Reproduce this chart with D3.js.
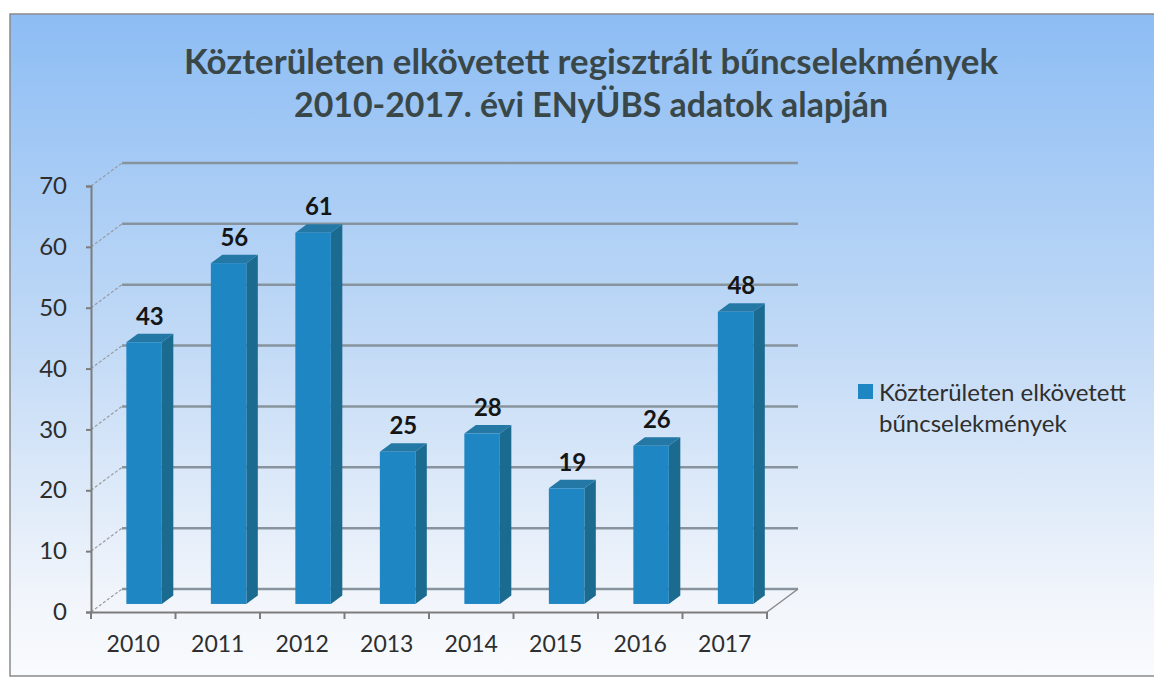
<!DOCTYPE html>
<html>
<head>
<meta charset="utf-8">
<script src="https://cdn.jsdelivr.net/npm/d3@7"></script>
<style>
  body { margin: 0; background: #fff; }
  text { font-family: Lato, "Open Sans", sans-serif; }
</style>
</head>
<body>
<svg id="drawing_region"></svg>
<script>
const years = ['2010', '2011', '2012', '2013', '2014', '2015', '2016', '2017'];
const values = [43, 56, 61, 25, 28, 19, 26, 48];
const yTicks = [0, 10, 20, 30, 40, 50, 60, 70];
const titleLines = ['Közterületen elkövetett regisztrált bűncselekmények', '2010-2017. évi ENyÜBS adatok alapján'];
const legendLines = ['Közterületen elkövetett', 'bűncselekmények'];

const width = 1154, height = 681;
const DX = 31, DY = -23;      // depth of the 3d floor
const f0 = 0.35, f1 = 0.72;   // where the bars sit in that depth

const svg = d3.select('#drawing_region')
    .attr('width', width)
    .attr('height', height);

const defs = svg.append('defs');
const grad = defs.append('linearGradient')
    .attr('id', 'bg').attr('x1', 0).attr('y1', 0).attr('x2', 0).attr('y2', 1);
grad.append('stop').attr('offset', '0%').attr('stop-color', '#8dbdf4');
grad.append('stop').attr('offset', '50%').attr('stop-color', '#c2daf6');
grad.append('stop').attr('offset', '88%').attr('stop-color', '#f1f5fb');
grad.append('stop').attr('offset', '100%').attr('stop-color', '#f9fbfd');

svg.append('rect')
    .attr('x', 10).attr('y', 14)
    .attr('width', 1160).attr('height', 662)
    .attr('fill', 'url(#bg)')
    .attr('stroke', '#8a8a8a')
    .attr('stroke-width', 1.5);

// title
svg.selectAll('.title')
    .data(titleLines)
    .enter()
    .append('text')
    .attr('class', 'title')
    .attr('x', 591)
    .attr('y', (d, i) => 74 + i * 43)
    .attr('text-anchor', 'middle')
    .attr('textLength', (d, i) => i == 0 ? 814 : 594)
    .attr('lengthAdjust', 'spacingAndGlyphs')
    .style('font-size', '35px')
    .style('font-weight', 'bold')
    .style('fill', '#3a4748')
    .text(d => d);

const x = d3.scaleBand()
    .domain(years)
    .range([91, 767])
    .paddingInner(0.58)
    .paddingOuter(0.29);

const y = d3.scaleLinear()
    .domain([0, 70])
    .range([612, 186]);

const step = x.step();
const x0 = x.range()[0], x1 = x.range()[1];

// back wall gridlines
svg.append('g')
    .selectAll('line')
    .data(yTicks)
    .enter()
    .append('line')
    .attr('x1', x0 + DX).attr('x2', x1 + DX)
    .attr('y1', d => y(d) + DY).attr('y2', d => y(d) + DY)
    .attr('stroke', '#87939d')
    .attr('stroke-width', 2.5);

// side wall lines
svg.append('g')
    .selectAll('line')
    .data(yTicks)
    .enter()
    .append('line')
    .attr('x1', x0).attr('x2', x0 + DX)
    .attr('y1', d => y(d)).attr('y2', d => y(d) + DY)
    .attr('stroke', '#9a9a9a')
    .attr('stroke-width', 1.2)
    .attr('stroke-dasharray', '3,2');

svg.append('line')
    .attr('x1', x1).attr('x2', x1 + DX)
    .attr('y1', y(0)).attr('y2', y(0) + DY)
    .attr('stroke', '#8a8a8a')
    .attr('stroke-width', 1.5);

// bars
const bw = x.bandwidth();
const sx = (f1 - f0) * DX, sy = (f1 - f0) * DY;
const bars = svg.append('g')
    .selectAll('g')
    .data(years.map((d, i) => ({year: d, value: values[i]})))
    .enter()
    .append('g');

const bx = d => x(d.year) + f0 * DX;
const bTop = d => y(d.value) + f0 * DY;
const bBot = y(0) + f0 * DY;

bars.append('path')
    .attr('d', d => `M${bx(d) + bw},${bTop(d)} L${bx(d) + bw + sx},${bTop(d) + sy} L${bx(d) + bw + sx},${bBot + sy} L${bx(d) + bw},${bBot} Z`)
    .attr('fill', '#1b6a90');

bars.append('path')
    .attr('d', d => `M${bx(d)},${bTop(d)} L${bx(d) + sx},${bTop(d) + sy} L${bx(d) + bw + sx},${bTop(d) + sy} L${bx(d) + bw},${bTop(d)} Z`)
    .attr('fill', '#2478a6');

bars.append('rect')
    .attr('x', d => bx(d))
    .attr('y', d => bTop(d))
    .attr('width', bw)
    .attr('height', d => bBot - bTop(d))
    .attr('fill', '#1e86c3');

bars.append('text')
    .attr('x', d => bx(d) + (bw + sx) / 2)
    .attr('y', d => bTop(d) + sy - 9)
    .attr('text-anchor', 'middle')
    .style('font-size', '24px')
    .style('font-weight', 'bold')
    .style('fill', '#151515')
    .text(d => d.value);

// y axis
const yAxis = svg.append('g')
    .attr('transform', `translate(${x0},0)`)
    .call(d3.axisLeft(y).tickValues(yTicks).tickSize(5).tickPadding(19));
yAxis.select('.domain').attr('stroke', '#7c7c7c').attr('stroke-width', 2);
yAxis.selectAll('.tick line').attr('stroke', '#7c7c7c').attr('stroke-width', 2);
yAxis.selectAll('.tick text')
    .style('font-size', '24px')
    .style('font-family', 'Lato, sans-serif')
    .style('fill', '#2e2e2e');

// x axis
const xAxis = svg.append('g')
    .attr('transform', `translate(0,${y(0)})`)
    .call(d3.axisBottom(x).tickSize(0).tickPadding(24));
xAxis.select('.domain').attr('stroke', '#7c7c7c').attr('stroke-width', 2);
xAxis.selectAll('.tick text')
    .style('font-size', '23px')
    .style('font-family', 'Lato, sans-serif')
    .style('fill', '#2e2e2e');
xAxis.selectAll('.bound')
    .data(d3.range(years.length + 1))
    .enter()
    .append('line')
    .attr('class', 'bound')
    .attr('x1', i => x0 + i * step).attr('x2', i => x0 + i * step)
    .attr('y1', 0).attr('y2', 7)
    .attr('stroke', '#7c7c7c')
    .attr('stroke-width', 2);

// legend
const legend = svg.append('g').attr('transform', 'translate(858,384)');
legend.append('rect')
    .attr('width', 15).attr('height', 15)
    .attr('fill', '#1e86c3');
legend.selectAll('text')
    .data(legendLines)
    .enter()
    .append('text')
    .attr('x', 21)
    .attr('y', (d, i) => 17 + i * 31)
    .style('font-size', '24px')
    .style('fill', '#2e2e2e')
    .text(d => d);
</script>
</body>
</html>
